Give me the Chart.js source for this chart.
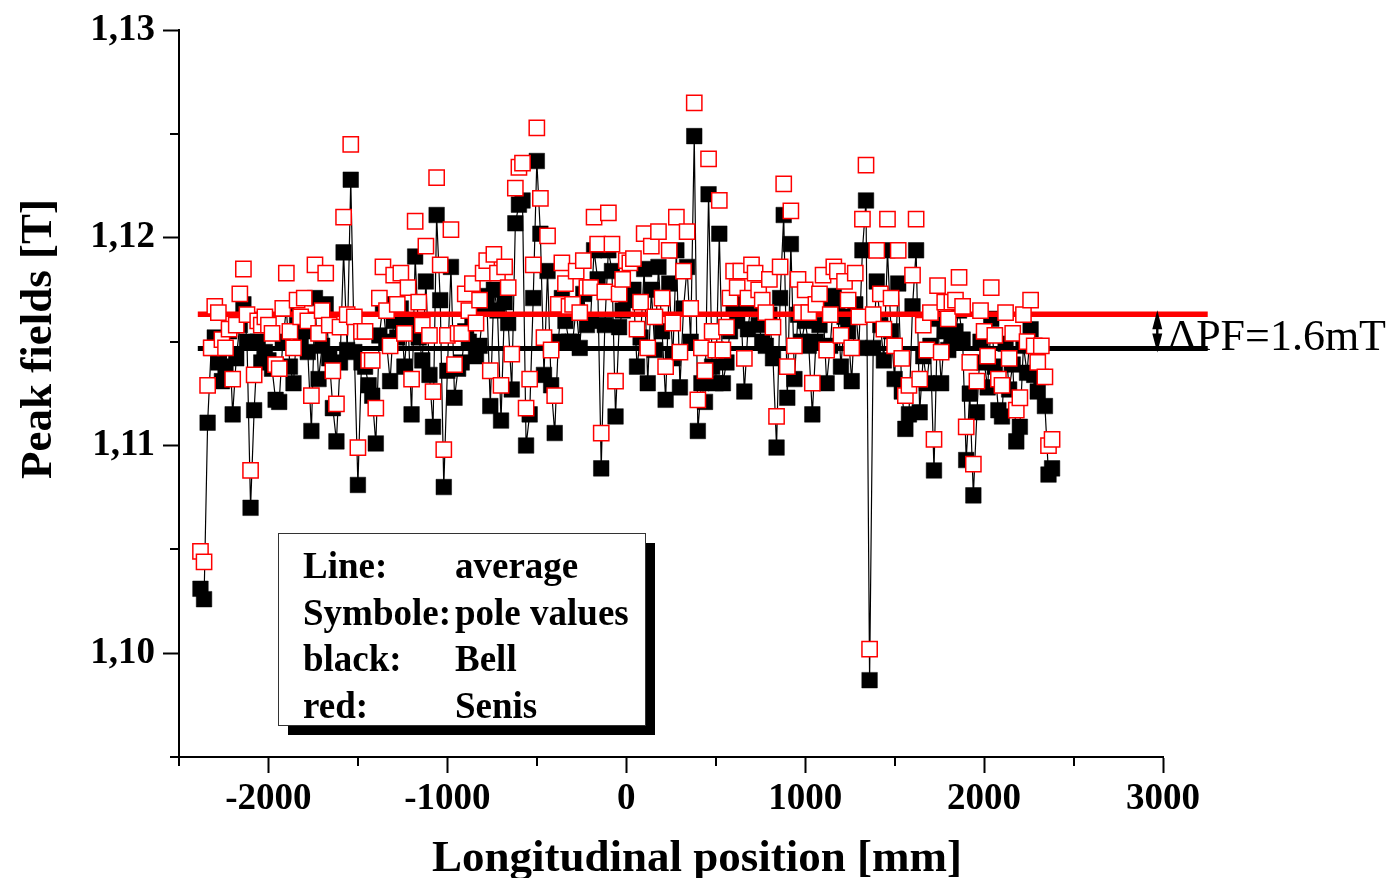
<!DOCTYPE html>
<html>
<head>
<meta charset="utf-8">
<title>Peak fields</title>
<script src="https://cdn.jsdelivr.net/npm/chart.js@4.4.1/dist/chart.umd.min.js"></script>
<style>
  html, body { margin: 0; padding: 0; background: #fff; }
  canvas { display: block; }
</style>
</head>
<body>
<canvas id="chart" width="1392" height="878"></canvas>
<script>
// Peak fields along the undulator, Bell (black) vs Senis (red) probe

var positions = [
  -2380, -2360, -2340, -2320, -2300, -2280, -2260, -2240, -2220, -2200,
  -2180, -2160, -2140, -2120, -2100, -2080, -2060, -2040, -2020, -2000,
  -1980, -1960, -1940, -1920, -1900, -1880, -1860, -1840, -1820, -1800,
  -1780, -1760, -1740, -1720, -1700, -1680, -1660, -1640, -1620, -1600,
  -1580, -1560, -1540, -1520, -1500, -1480, -1460, -1440, -1420, -1400,
  -1380, -1360, -1340, -1320, -1300, -1280, -1260, -1240, -1220, -1200,
  -1180, -1160, -1140, -1120, -1100, -1080, -1060, -1040, -1020, -1000,
  -980, -960, -940, -920, -900, -880, -860, -840, -820, -800,
  -780, -760, -740, -720, -700, -680, -660, -640, -620, -600,
  -580, -560, -540, -520, -500, -480, -460, -440, -420, -400,
  -380, -360, -340, -320, -300, -280, -260, -240, -220, -200,
  -180, -160, -140, -120, -100, -80, -60, -40, -20, 0,
  20, 40, 60, 80, 100, 120, 140, 160, 180, 200,
  220, 240, 260, 280, 300, 320, 340, 360, 380, 400,
  420, 440, 460, 480, 500, 520, 540, 560, 580, 600,
  620, 640, 660, 680, 700, 720, 740, 760, 780, 800,
  820, 840, 860, 880, 900, 920, 940, 960, 980, 1000,
  1020, 1040, 1060, 1080, 1100, 1120, 1140, 1160, 1180, 1200,
  1220, 1240, 1260, 1280, 1300, 1320, 1340, 1360, 1380, 1400,
  1420, 1440, 1460, 1480, 1500, 1520, 1540, 1560, 1580, 1600,
  1620, 1640, 1660, 1680, 1700, 1720, 1740, 1760, 1780, 1800,
  1820, 1840, 1860, 1880, 1900, 1920, 1940, 1960, 1980, 2000,
  2020, 2040, 2060, 2080, 2100, 2120, 2140, 2160, 2180, 2200,
  2220, 2240, 2260, 2280, 2300, 2320, 2340, 2360, 2380
];

// Bell probe, black squares [T]
var bellValues = [
  1.1031, 1.1026, 1.1111, 1.1147, 1.1152, 1.1140, 1.1131, 1.1138, 1.1155, 1.1115,
  1.1142, 1.1158, 1.1168, 1.1150, 1.1070, 1.1117, 1.1150, 1.1140, 1.1145, 1.1141,
  1.1137, 1.1122, 1.1121, 1.1150, 1.1166, 1.1138, 1.1130, 1.1158, 1.1150, 1.1155,
  1.1145, 1.1107, 1.1171, 1.1132, 1.1148, 1.1168, 1.1142, 1.1118, 1.1102, 1.1140,
  1.1193, 1.1146, 1.1228, 1.1145, 1.1081, 1.1140, 1.1138, 1.1129, 1.1124, 1.1101,
  1.1153, 1.1168, 1.1150, 1.1131, 1.1160, 1.1152, 1.1166, 1.1138, 1.1160, 1.1115,
  1.1191, 1.1152, 1.1141, 1.1179, 1.1134, 1.1109, 1.1211, 1.1170, 1.1080, 1.1136,
  1.1186, 1.1123, 1.1137, 1.1140, 1.1155, 1.1150, 1.1160, 1.1143, 1.1148, 1.1166,
  1.1172, 1.1119, 1.1175, 1.1165, 1.1112, 1.1169, 1.1159, 1.1127, 1.1207, 1.1216,
  1.1218, 1.1100, 1.1115, 1.1171, 1.1237, 1.1202, 1.1134, 1.1184, 1.1129, 1.1106,
  1.1150, 1.1171, 1.1160, 1.1150, 1.1150, 1.1166, 1.1147, 1.1173, 1.1158, 1.1160,
  1.1194, 1.1180, 1.1089, 1.1158, 1.1194, 1.1184, 1.1114, 1.1157, 1.1165, 1.1172,
  1.1170, 1.1175, 1.1138, 1.1152, 1.1185, 1.1130, 1.1175, 1.1146, 1.1186, 1.1155,
  1.1122, 1.1178, 1.1142, 1.1194, 1.1128, 1.1166, 1.1186, 1.1150, 1.1249, 1.1107,
  1.1130, 1.1121, 1.1221, 1.1138, 1.1130, 1.1202, 1.1130, 1.1140, 1.1155, 1.1166,
  1.1160, 1.1168, 1.1126, 1.1156, 1.1170, 1.1166, 1.1158, 1.1150, 1.1148, 1.1163,
  1.1142, 1.1099, 1.1171, 1.1211, 1.1123, 1.1197, 1.1132, 1.1163, 1.1150, 1.1160,
  1.1148, 1.1115, 1.1150, 1.1158, 1.1166, 1.1130, 1.1148, 1.1172, 1.1168, 1.1138,
  1.1162, 1.1155, 1.1131, 1.1168, 1.1147, 1.1194, 1.1218, 1.0987, 1.1147, 1.1179,
  1.1158, 1.1141, 1.1194, 1.1155, 1.1132, 1.1178, 1.1126, 1.1108, 1.1115, 1.1167,
  1.1194, 1.1116, 1.1143, 1.1130, 1.1148, 1.1088, 1.1161, 1.1130, 1.1155, 1.1146,
  1.1153, 1.1155, 1.1165, 1.1151, 1.1093, 1.1125, 1.1076, 1.1116, 1.1150, 1.1140,
  1.1128, 1.1161, 1.1138, 1.1117, 1.1114, 1.1149, 1.1127, 1.1139, 1.1102, 1.1109,
  1.1148, 1.1135, 1.1156, 1.1134, 1.1126, 1.1133, 1.1119, 1.1086, 1.1089
];

// Senis probe, red open squares [T]
var senisValues = [
  1.1049, 1.1044, 1.1129, 1.1147, 1.1167, 1.1164, 1.1151, 1.1147, 1.1156, 1.1132,
  1.1158, 1.1173, 1.1185, 1.1163, 1.1088, 1.1134, 1.1160, 1.1158, 1.1162, 1.1158,
  1.1154, 1.1139, 1.1137, 1.1166, 1.1183, 1.1155, 1.1147, 1.1170, 1.1162, 1.1171,
  1.1160, 1.1124, 1.1187, 1.1154, 1.1165, 1.1183, 1.1158, 1.1136, 1.1120, 1.1157,
  1.1210, 1.1163, 1.1245, 1.1162, 1.1099, 1.1155, 1.1155, 1.1141, 1.1141, 1.1118,
  1.1171, 1.1186, 1.1165, 1.1148, 1.1182, 1.1168, 1.1183, 1.1154, 1.1176, 1.1132,
  1.1208, 1.1169, 1.1158, 1.1196, 1.1153, 1.1126, 1.1229, 1.1187, 1.1098, 1.1153,
  1.1204, 1.1139, 1.1154, 1.1154, 1.1173, 1.1165, 1.1178, 1.1159, 1.1170, 1.1183,
  1.1189, 1.1136, 1.1192, 1.1183, 1.1129, 1.1186, 1.1176, 1.1144, 1.1224, 1.1234,
  1.1236, 1.1118, 1.1132, 1.1187, 1.1253, 1.1219, 1.1152, 1.1201, 1.1146, 1.1124,
  1.1168, 1.1188, 1.1178, 1.1167, 1.1168, 1.1184, 1.1164, 1.1189, 1.1176, 1.1176,
  1.1210, 1.1197, 1.1106, 1.1174, 1.1212, 1.1197, 1.1131, 1.1173, 1.1180, 1.1189,
  1.1188, 1.1190, 1.1156, 1.1169, 1.1202, 1.1147, 1.1196, 1.1162, 1.1203, 1.1171,
  1.1138, 1.1194, 1.1159, 1.1210, 1.1145, 1.1184, 1.1203, 1.1166, 1.1265, 1.1122,
  1.1147, 1.1136, 1.1238, 1.1155, 1.1146, 1.1218, 1.1146, 1.1157, 1.1171, 1.1184,
  1.1176, 1.1184, 1.1142, 1.1171, 1.1187, 1.1183, 1.1175, 1.1170, 1.1164, 1.1180,
  1.1157, 1.1114, 1.1186, 1.1226, 1.1138, 1.1213, 1.1148, 1.1180, 1.1164, 1.1175,
  1.1164, 1.1130, 1.1168, 1.1173, 1.1182, 1.1146, 1.1163, 1.1186, 1.1184, 1.1153,
  1.1179, 1.1170, 1.1147, 1.1183, 1.1162, 1.1209, 1.1235, 1.1002, 1.1163, 1.1194,
  1.1173, 1.1156, 1.1209, 1.1171, 1.1148, 1.1194, 1.1142, 1.1124, 1.1129, 1.1182,
  1.1209, 1.1132, 1.1158, 1.1146, 1.1164, 1.1103, 1.1177, 1.1145, 1.1169, 1.1161,
  1.1169, 1.1170, 1.1181, 1.1167, 1.1109, 1.1140, 1.1091, 1.1131, 1.1165, 1.1155,
  1.1143, 1.1176, 1.1153, 1.1132, 1.1129, 1.1164, 1.1142, 1.1154, 1.1117, 1.1123,
  1.1163, 1.1150, 1.1170, 1.1148, 1.1140, 1.1148, 1.1133, 1.1100, 1.1103
];

// averages drawn as horizontal lines
var avgExtent = [-2395, 3250];
var bellAverage = 1.11467;
var senisAverage = 1.11632;

var xTicks = [-2000, -1000, 0, 1000, 2000, 3000];
var xMinorTicks = [-2500, -1500, -500, 500, 1500, 2500];
var yTicks = [1.10, 1.11, 1.12, 1.13];
var yMinorTicks = [1.095, 1.105, 1.115, 1.125];

var legendRows = [['Line:', 'average'], ['Symbole:', 'pole values'], ['black:', 'Bell'], ['red:', 'Senis']];
var deltaLabel = '\u0394PF=1.6mT';
var deltaLabelX = 3027;
var arrowX = 2968;

var SERIF = '"Liberation Serif", "Times New Roman", Times, serif';

function toPoints(values) {
  return positions.map(function (x, i) { return { x: x, y: values[i] }; });
}

function avgLine(v) {
  return [{ x: avgExtent[0], y: v }, { x: avgExtent[1], y: v }];
}

var decorPlugin = {
  id: 'decor',
  afterDraw: function (chart) {
    var ctx = chart.ctx;
    var xs = chart.scales.x, ys = chart.scales.y;
    var area = chart.chartArea;
    ctx.save();

    // minor ticks
    ctx.strokeStyle = '#000';
    ctx.lineWidth = 2;
    ctx.beginPath();
    xMinorTicks.forEach(function (v) {
      var px = Math.round(xs.getPixelForValue(v));
      ctx.moveTo(px, area.bottom);
      ctx.lineTo(px, area.bottom + 9);
    });
    yMinorTicks.forEach(function (v) {
      var py = Math.round(ys.getPixelForValue(v));
      ctx.moveTo(area.left, py);
      ctx.lineTo(area.left - 9, py);
    });
    ctx.stroke();

    // delta arrow between the two averages
    var ax = xs.getPixelForValue(arrowX);
    var yR = ys.getPixelForValue(senisAverage);
    var yB = ys.getPixelForValue(bellAverage);
    ctx.fillStyle = '#000';
    ctx.beginPath();
    ctx.moveTo(ax, yR - 4);
    ctx.lineTo(ax + 5, yR + 15);
    ctx.lineTo(ax + 1.2, yR + 15);
    ctx.lineTo(ax + 1.2, yB - 15);
    ctx.lineTo(ax + 5, yB - 15);
    ctx.lineTo(ax, yB + 4);
    ctx.lineTo(ax - 5, yB - 15);
    ctx.lineTo(ax - 1.2, yB - 15);
    ctx.lineTo(ax - 1.2, yR + 15);
    ctx.lineTo(ax - 5, yR + 15);
    ctx.closePath();
    ctx.fill();

    ctx.font = '44px ' + SERIF;
    ctx.textAlign = 'left';
    ctx.textBaseline = 'alphabetic';
    ctx.fillText(deltaLabel, xs.getPixelForValue(deltaLabelX), yB + 1);

    // legend box with drop shadow
    var bx = 278, by = 533, bw = 367, bh = 192;
    ctx.fillStyle = '#000';
    ctx.fillRect(bx + 10, by + 10, bw, bh);
    ctx.fillStyle = '#fff';
    ctx.fillRect(bx, by, bw, bh);
    ctx.lineWidth = 1;
    ctx.strokeStyle = '#333';
    ctx.strokeRect(bx + 0.5, by + 0.5, bw, bh);
    ctx.fillStyle = '#000';
    ctx.font = 'bold 37px ' + SERIF;
    legendRows.forEach(function (row, i) {
      var base = by + 45 + i * 46.7;
      ctx.fillText(row[0], bx + 25, base);
      ctx.fillText(row[1], bx + 177, base);
    });

    // axis titles
    ctx.font = 'bold 45px ' + SERIF;
    ctx.textAlign = 'center';
    ctx.fillText('Longitudinal position [mm]', 697, 871);
    ctx.translate(51, 339);
    ctx.rotate(-Math.PI / 2);
    ctx.fillText('Peak fields [T]', 0, 0);

    ctx.restore();
  }
};

var tickFont = { family: SERIF, size: 37, weight: 'bold' };

new Chart(document.getElementById('chart').getContext('2d'), {
  type: 'line',
  data: {
    datasets: [
      {
        label: 'Senis', data: toPoints(senisValues), order: 0,
        showLine: false, pointStyle: 'rect', pointRadius: 10.8,
        pointBackgroundColor: '#fff', pointBorderColor: '#ff0000', pointBorderWidth: 1.5
      },
      {
        label: 'Senis average', data: avgLine(senisAverage), order: 1, clip: false,
        borderColor: '#ff0000', borderWidth: 5.5, pointRadius: 0
      },
      {
        label: 'Bell average', data: avgLine(bellAverage), order: 1, clip: false,
        borderColor: '#000', borderWidth: 5, pointRadius: 0
      },
      {
        label: 'Bell', data: toPoints(bellValues), order: 2,
        borderColor: '#000', borderWidth: 1.2, tension: 0,
        pointStyle: 'rect', pointRadius: 11,
        pointBackgroundColor: '#000', pointBorderColor: '#000', pointBorderWidth: 0.5
      }
    ]
  },
  options: {
    responsive: false,
    animation: false,
    devicePixelRatio: 1,
    events: [],
    layout: { padding: { top: 27, right: 229, left: 0, bottom: 0 } },
    plugins: { legend: { display: false }, tooltip: { enabled: false } },
    scales: {
      x: {
        type: 'linear', min: -2500, max: 3000,
        afterBuildTicks: function (s) { s.ticks = xTicks.map(function (v) { return { value: v }; }); },
        afterFit: function (s) { s.height = 121; },
        grid: { drawOnChartArea: false, tickLength: 16, tickWidth: 2, tickColor: '#000' },
        border: { color: '#000', width: 2 },
        ticks: {
          color: '#000', font: tickFont, padding: 4, maxRotation: 0, autoSkip: false,
          callback: function (v) { return String(v); }
        }
      },
      y: {
        type: 'linear', min: 1.095, max: 1.13,
        afterBuildTicks: function (s) { s.ticks = yTicks.map(function (v) { return { value: v }; }); },
        afterFit: function (s) { s.width = 179; },
        grid: { drawOnChartArea: false, tickLength: 16, tickWidth: 2, tickColor: '#000' },
        border: { color: '#000', width: 2 },
        ticks: {
          color: '#000', font: tickFont, padding: 8, autoSkip: false,
          callback: function (v) { return v.toFixed(2).replace('.', ','); }
        }
      }
    }
  },
  plugins: [decorPlugin]
});
</script>
</body>
</html>
